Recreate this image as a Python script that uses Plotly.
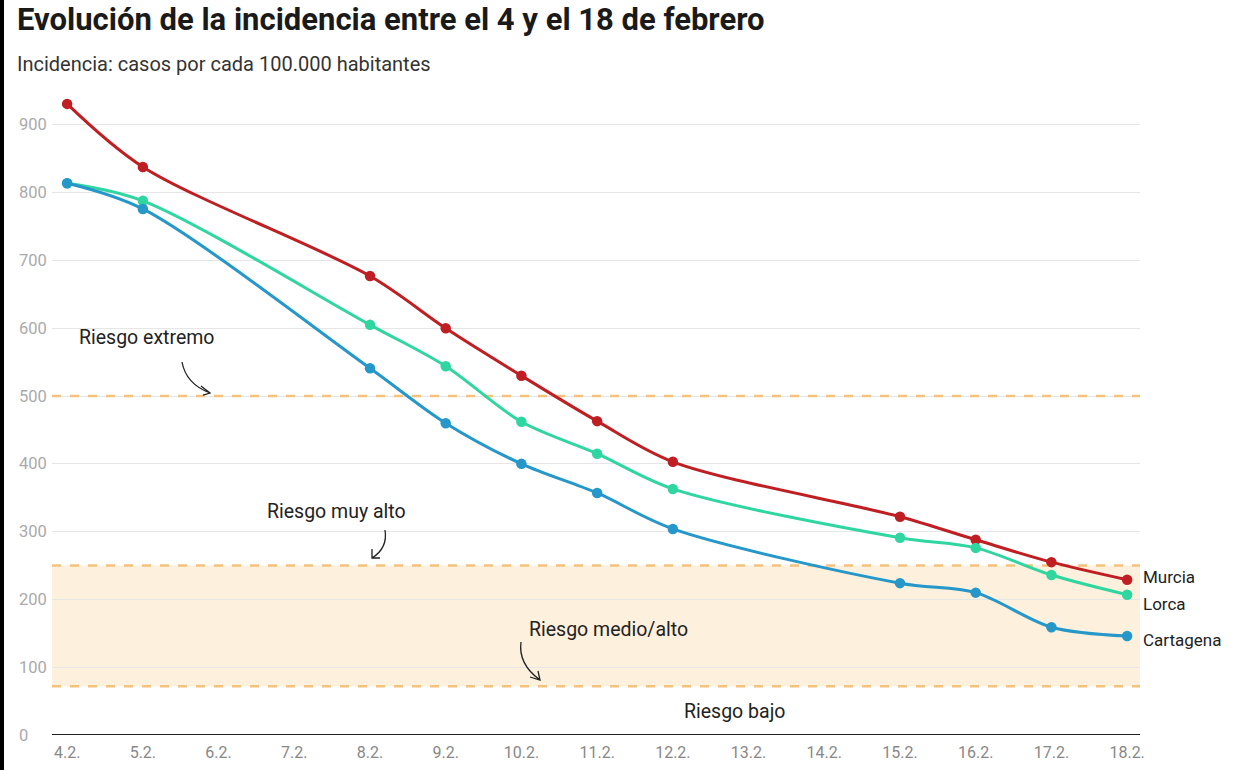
import plotly.graph_objects as go

days = [4, 5, 8, 9, 10, 11, 12, 15, 16, 17, 18]
murcia = [931, 838, 677, 600, 530, 463, 403, 322, 288, 255, 229]
lorca = [814, 788, 605, 544, 462, 415, 363, 291, 276, 236, 207]
cartagena = [814, 776, 541, 460, 400, 357, 304, 224, 210, 159, 146]

tick_days = list(range(4, 19))
tick_labels = [f"{d}.2." for d in tick_days]
y_ticks = [0, 100, 200, 300, 400, 500, 600, 700, 800, 900]

thresholds = [500, 250, 72]
band = (72, 250)

colors = {"Murcia": "#bf1f22", "Lorca": "#2fd6a0", "Cartagena": "#2597c9"}
series = [("Murcia", murcia), ("Lorca", lorca), ("Cartagena", cartagena)]

X0, X1 = 3.8, 18.17
Y0, Y1 = 0, 950
ML, MR, MT, MB = 52, 108, 91, 35
W, H = 1248, 770
PW, PH = W - ML - MR, H - MT - MB


def dx(px):
    return X0 + (px - ML) / PW * (X1 - X0)


def dy(py):
    return Y0 + (H - MB - py) / PH * (Y1 - Y0)


fig = go.Figure()

for name, vals in series:
    fig.add_trace(go.Scatter(
        x=days, y=vals, mode="lines+markers", name=name,
        line=dict(color=colors[name], width=3, shape="spline", smoothing=0.9),
        marker=dict(color=colors[name], size=10.5),
        cliponaxis=False, showlegend=False,
    ))

shapes = []
shapes.append(dict(type="rect", xref="x", yref="y", x0=X0, x1=X1, y0=band[0], y1=band[1],
                   fillcolor="#fdf0dc", line=dict(width=0), layer="below"))
for t in thresholds:
    shapes.append(dict(type="line", xref="x", yref="y", x0=X0, x1=X1, y0=t, y1=t,
                       line=dict(color="#f4c27c", width=2.5, dash="dash"), layer="between"))
shapes.append(dict(type="line", xref="x", yref="y", x0=X0, x1=X1, y0=0, y1=0,
                   line=dict(color="#222222", width=1.8)))
shapes.append(dict(type="rect", xref="paper", yref="paper", x0=-ML / PW, x1=(-ML + 4) / PW,
                   y0=-MB / PH, y1=1 + MT / PH, fillcolor="#000000", line=dict(width=0)))


def curved_arrow(p0, c, p1, head):
    path = (f"M {dx(p0[0])},{dy(p0[1])} Q {dx(c[0])},{dy(c[1])} {dx(p1[0])},{dy(p1[1])} "
            f"M {dx(head[0][0])},{dy(head[0][1])} L {dx(p1[0])},{dy(p1[1])} "
            f"L {dx(head[1][0])},{dy(head[1][1])}")
    return dict(type="path", xref="x", yref="y", path=path,
                line=dict(color="#222222", width=1.3))


shapes.append(curved_arrow((182, 362), (186, 384), (210, 393), ((201, 386), (203, 395))))
shapes.append(curved_arrow((385, 530), (388, 548), (372, 558), ((372, 549), (380, 558))))
shapes.append(curved_arrow((521, 642), (518, 664), (540, 680), ((530, 677), (538, 671))))

annotations = []
ann_font = dict(family="Roboto", size=19.5, color="#222222")
annotations.append(dict(x=dx(146), y=dy(337), text="Riesgo extremo", showarrow=False, font=ann_font))
annotations.append(dict(x=dx(336), y=dy(511), text="Riesgo muy alto", showarrow=False, font=ann_font))
annotations.append(dict(x=dx(608), y=dy(629), text="Riesgo medio/alto", showarrow=False, font=ann_font))
annotations.append(dict(x=dx(734), y=dy(711), text="Riesgo bajo", showarrow=False, font=ann_font))

label_offsets = {"Murcia": -3, "Lorca": 9, "Cartagena": 4}
for name, vals in series:
    annotations.append(dict(x=days[-1], y=vals[-1], text=name, showarrow=False,
                            xanchor="left", yanchor="middle", xshift=14,
                            yshift=-label_offsets[name],
                            font=dict(family="Roboto", size=17, color="#222222")))

for v in y_ticks:
    annotations.append(dict(xref="paper", x=(17 - ML) / PW, y=v, yref="y", text=str(v),
                            showarrow=False, xanchor="left", yanchor="middle",
                            font=dict(family="Roboto", size=16.5, color="#aaaaaa")))

annotations.append(dict(xref="paper", yref="paper", x=(15 - ML) / PW, y=1 + (MT - 19) / PH,
                        text="<b>Evolución de la incidencia entre el 4 y el 18 de febrero</b>",
                        showarrow=False, xanchor="left", yanchor="middle",
                        font=dict(family="Roboto", size=31, color="#1a1a1a")))
annotations.append(dict(xref="paper", yref="paper", x=(15 - ML) / PW, y=1 + (MT - 64) / PH,
                        text="Incidencia: casos por cada 100.000 habitantes",
                        showarrow=False, xanchor="left", yanchor="middle",
                        font=dict(family="Roboto", size=20, color="#333333")))

fig.update_layout(
    width=W, height=H,
    margin=dict(l=ML, r=MR, t=MT, b=MB, pad=0, autoexpand=False),
    paper_bgcolor="white", plot_bgcolor="white",
    shapes=shapes, annotations=annotations,
    xaxis=dict(range=[X0, X1], tickvals=tick_days, ticktext=tick_labels,
               showgrid=False, zeroline=False, showline=False, ticks="",
               ticklabelstandoff=6, automargin=False,
               tickfont=dict(family="Roboto", size=16, color="#888888")),
    yaxis=dict(range=[Y0, Y1], tickvals=y_ticks, showticklabels=False, automargin=False,
               showgrid=True, gridcolor="#e6e6e6", gridwidth=1, zeroline=False, showline=False),
    font=dict(family="Roboto"),
)

fig.write_html("out.html", config={"displayModeBar": False},
               post_script="document.body.style.margin='0';")
